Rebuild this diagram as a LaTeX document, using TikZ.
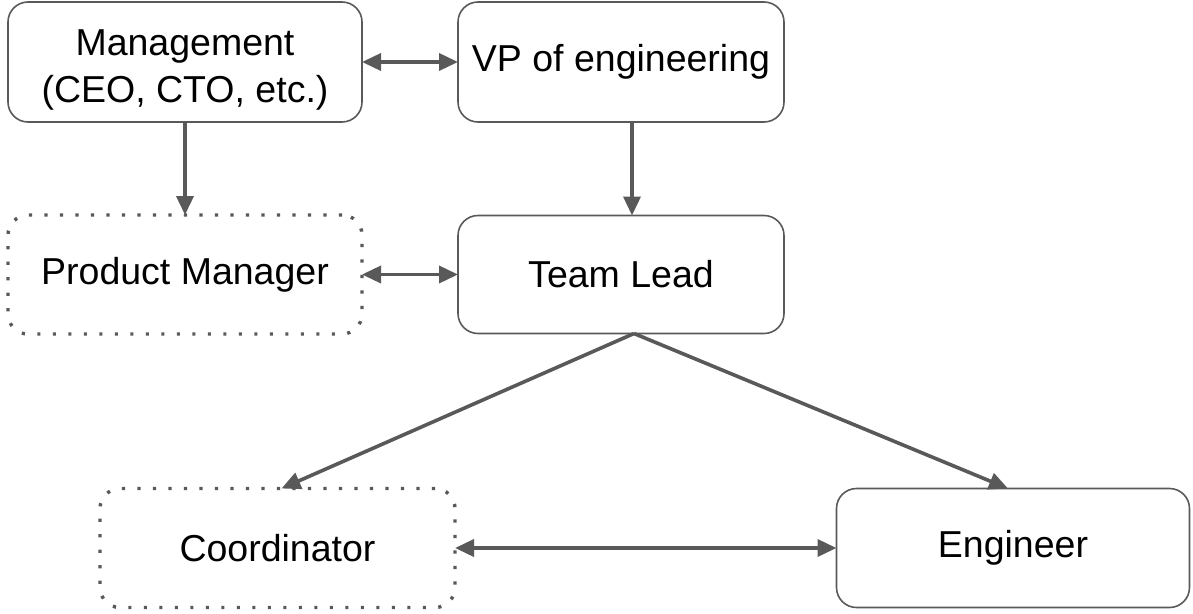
\documentclass[tikz,border=0pt]{standalone}
\usepackage{fontspec}
\setmainfont{Liberation Sans}
\usetikzlibrary{arrows.meta}
\definecolor{edge}{HTML}{595959}
\tikzset{
  box/.style={draw=edge, line width=1.6pt, rounded corners=20pt, outer sep=0pt,
    font=\fontsize{37.5}{47}\selectfont, align=center, text=black},
  solidbox/.style={box},
  dotbox/.style={box, line width=3.4pt, dash pattern=on 3.2pt off 12.3pt},
  conn/.style={draw=edge, line width=3.6pt, -{Triangle[length=19pt,width=17pt]}},
  biconn/.style={draw=edge, line width=3.6pt, {Triangle[length=19pt,width=17pt]}-{Triangle[length=19pt,width=17pt]}},
  lbl/.style={font=\fontsize{37.5}{47}\selectfont, align=center, text=black, inner sep=0pt},
}
\begin{document}
\begin{tikzpicture}[x=1pt,y=-1pt]
\useasboundingbox (0,0) rectangle (1193,613);
\node[solidbox, minimum width=354pt, minimum height=120pt] (mgmt) at (185,62) {};
\node[lbl] (mgmttext) at (185,70) {Management\\(CEO, CTO, etc.)};
\node[solidbox, minimum width=326pt, minimum height=120pt] (vp) at (621,62) {VP of engineering};
\node[dotbox, minimum width=354pt, minimum height=119pt] (pm) at (185,274.5) {Product Manager};
\node[solidbox, minimum width=326pt, minimum height=118pt] (tl) at (621,274.5) {Team Lead};
\node[dotbox, minimum width=355pt, minimum height=119pt] (coord) at (277.5,548) {Coordinator};
\node[solidbox, minimum width=353pt, minimum height=119pt] (eng) at (1013,548) {Engineer};

\draw[biconn] (mgmt.east) -- (vp.west);
\draw[conn] (mgmt.south) -- (pm.north);
\draw[conn] ([xshift=11pt]vp.south) -- ([xshift=11pt]tl.north);
\draw[biconn] (pm.east) -- (tl.west);
\draw[conn] ([xshift=13pt]tl.south) -- ([xshift=4pt]coord.north);
\draw[conn] ([xshift=13pt]tl.south) -- ([xshift=-5pt]eng.north);
\draw[biconn] (coord.east) -- (eng.west);
\end{tikzpicture}
\end{document}
